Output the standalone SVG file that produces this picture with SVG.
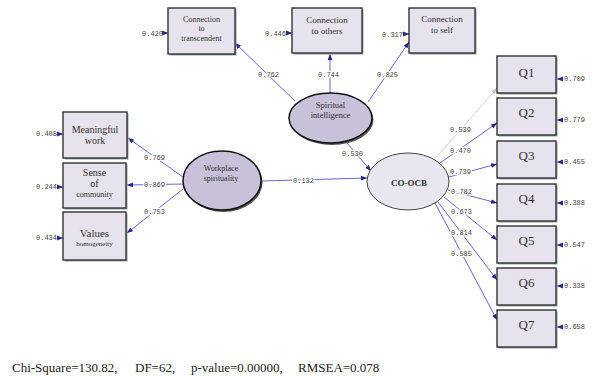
<svg xmlns="http://www.w3.org/2000/svg" width="592" height="376" viewBox="0 0 592 376">
  <style>
    .box { fill: #e6e3ee; stroke: #333; stroke-width: 1.4; }
    .shadow { fill: #8fa3a8; }
    .lat { fill: #c9c0da; stroke: #111; stroke-width: 1.5; }
    .latlight { fill: #e8e6f0; stroke: #444; stroke-width: 1; }
    .lshadow { fill: #555; }
    .t { font-family: "Liberation Serif", "Times New Roman", serif; fill: #333; text-anchor: middle; }
    .num { font-family: "Liberation Mono", "Courier New", monospace; font-size: 7px; fill: #444; }
    .lbl { stroke: #fff; stroke-width: 2.5; paint-order: stroke; }
    .path { stroke: #5656c4; stroke-width: 0.9; fill: none; marker-end: url(#head); }
    .grey { stroke: #cfcfcf; stroke-width: 0.9; fill: none; marker-end: url(#headg); }
    .err { stroke: #3a3a9a; stroke-width: 1; fill: none; marker-end: url(#head); }
  </style>
  <defs>
    <marker id="head" markerUnits="userSpaceOnUse" markerWidth="6" markerHeight="6" viewBox="0 0 6 6" refX="6" refY="3" orient="auto">
      <path d="M0,0.6 L6,3 L0,5.4 Z" fill="#26268a"/>
    </marker>
    <marker id="headg" markerUnits="userSpaceOnUse" markerWidth="6" markerHeight="6" viewBox="0 0 6 6" refX="6" refY="3" orient="auto">
      <path d="M0,0.6 L6,3 L0,5.4 Z" fill="#c4c4c4"/>
    </marker>
  </defs>
  <rect width="592" height="376" fill="#fff"/>

  <!-- paths between constructs and indicators -->
  <g id="connectors">
    <path class="path" d="M183,177 L128,138"/>
    <path class="path" d="M183,184 L127,185"/>
    <path class="path" d="M183,189 L127,233"/>
    <path class="path" d="M261,181 L367,178"/>
    <path class="path" d="M347,143 L371,171"/>
    <path class="path" d="M295,101 L235,43"/>
    <path class="path" d="M330,93 L330,54"/>
    <path class="path" d="M368,102 L409,42"/>
    <path class="grey" d="M435,159 L497,88"/>
    <path class="path" d="M440,163 L497,123"/>
    <path class="path" d="M449,177 L497,164"/>
    <path class="path" d="M448,190 L497,203"/>
    <path class="path" d="M444,197 L497,240"/>
    <path class="path" d="M438,202 L497,280"/>
    <path class="path" d="M435,203 L497,320"/>
    <!-- error terms -->
    <path class="err" d="M163,33 L168,33"/>
    <path class="err" d="M287,33 L292,33"/>
    <path class="err" d="M404,34 L409,34"/>
    <path class="err" d="M58,134 L63,134"/>
    <path class="err" d="M58,187 L63,187"/>
    <path class="err" d="M58,238 L63,238"/>
    <path class="err" d="M563,79 L557,79"/>
    <path class="err" d="M563,120 L557,120"/>
    <path class="err" d="M563,162 L557,162"/>
    <path class="err" d="M563,203 L557,203"/>
    <path class="err" d="M563,245 L557,245"/>
    <path class="err" d="M563,286 L557,286"/>
    <path class="err" d="M563,327 L557,327"/>
    <!-- coefficients -->
    <text class="num lbl" x="258" y="77">0.762</text>
    <text class="num lbl" x="318" y="77">0.744</text>
    <text class="num lbl" x="377" y="77">0.825</text>
    <text class="num lbl" x="144" y="160">0.769</text>
    <text class="num lbl" x="144" y="187">0.869</text>
    <text class="num lbl" x="144" y="214">0.753</text>
    <text class="num lbl" x="293" y="183">0.132</text>
    <text class="num lbl" x="342" y="156">0.530</text>
    <text class="num lbl" x="450" y="132">0.539</text>
    <text class="num lbl" x="450" y="153">0.470</text>
    <text class="num lbl" x="450" y="174">0.739</text>
    <text class="num lbl" x="451" y="194">0.782</text>
    <text class="num lbl" x="451" y="214">0.673</text>
    <text class="num lbl" x="451" y="235">0.814</text>
    <text class="num lbl" x="451" y="256">0.585</text>
    <!-- error variances -->
    <text class="num" x="142" y="36">0.420</text>
    <text class="num" x="265" y="36">0.446</text>
    <text class="num" x="382" y="37">0.317</text>
    <text class="num" x="36" y="136">0.408</text>
    <text class="num" x="36" y="189">0.244</text>
    <text class="num" x="36" y="240">0.434</text>
    <text class="num" x="564" y="81">0.709</text>
    <text class="num" x="564" y="122">0.779</text>
    <text class="num" x="564" y="164">0.455</text>
    <text class="num" x="564" y="205">0.388</text>
    <text class="num" x="564" y="247">0.547</text>
    <text class="num" x="564" y="288">0.338</text>
    <text class="num" x="564" y="329">0.658</text>
  </g>

  <!-- spiritual intelligence indicators -->
  <g id="conn-transcendent">
    <rect class="shadow" x="169.5" y="9.5" width="67" height="46"/>
    <rect class="box" x="168" y="8" width="67" height="46"/>
    <text class="t" font-size="8" x="201.5" y="22">Connection</text>
    <text class="t" font-size="8" x="201.5" y="31">to</text>
    <text class="t" font-size="8" x="201.5" y="41">transcendent</text>
  </g>
  <g id="conn-others">
    <rect class="shadow" x="293.5" y="9.5" width="70" height="45"/>
    <rect class="box" x="292" y="8" width="70" height="45"/>
    <text class="t" font-size="9" x="327" y="23">Connection</text>
    <text class="t" font-size="9" x="327" y="34">to others</text>
  </g>
  <g id="conn-self">
    <rect class="shadow" x="410.5" y="9.5" width="66" height="45"/>
    <rect class="box" x="409" y="8" width="66" height="45"/>
    <text class="t" font-size="9" x="442" y="22">Connection</text>
    <text class="t" font-size="9" x="442" y="33">to self</text>
  </g>

  <!-- workplace spirituality indicators -->
  <g id="meaningful-work">
    <rect class="shadow" x="64.5" y="113.5" width="64" height="46"/>
    <rect class="box" x="63" y="112" width="64" height="46"/>
    <text class="t" font-size="10" x="95" y="133">Meaningful</text>
    <text class="t" font-size="10" x="95" y="144">work</text>
  </g>
  <g id="sense-of-community">
    <rect class="shadow" x="64.5" y="164.5" width="63" height="45"/>
    <rect class="box" x="63" y="163" width="63" height="45"/>
    <text class="t" font-size="10" x="94.5" y="176">Sense</text>
    <text class="t" font-size="10" x="94.5" y="187">of</text>
    <text class="t" font-size="8" x="94.5" y="197">community</text>
  </g>
  <g id="values-homogeneity">
    <rect class="shadow" x="64.5" y="213.5" width="63" height="48"/>
    <rect class="box" x="63" y="212" width="63" height="48"/>
    <text class="t" font-size="11" x="94.5" y="237">Values</text>
    <text class="t" font-size="7" x="94.5" y="246">homogeneity</text>
  </g>

  <!-- latent constructs -->
  <g id="spiritual-intelligence">
    <ellipse class="lshadow" cx="332" cy="120" rx="41.5" ry="25"/>
    <ellipse class="lat" cx="330.5" cy="118" rx="41.5" ry="25"/>
    <text class="t" font-size="8.5" x="330.5" y="108">Spiritual</text>
    <text class="t" font-size="8.5" x="330.5" y="118">intelligence</text>
  </g>
  <g id="workplace-spirituality">
    <ellipse class="lshadow" cx="223.5" cy="182.5" rx="39" ry="29.5"/>
    <ellipse class="lat" cx="222" cy="180.5" rx="39" ry="29.5"/>
    <text class="t" font-size="8" x="221" y="170.5">Workplace</text>
    <text class="t" font-size="8" x="221" y="180.5">spirituality</text>
  </g>
  <g id="co-ocb">
    <ellipse class="latlight" cx="408" cy="181.5" rx="41" ry="28.5"/>
    <text class="t" font-size="9" font-weight="bold" x="409" y="186" fill="#222">CO-OCB</text>
  </g>

  <!-- CO-OCB items -->
  <g id="q1">
    <rect class="shadow" x="498.5" y="57.5" width="59" height="37"/>
    <rect class="box" x="497" y="56" width="59" height="37"/>
    <text class="t" font-size="13" x="526.5" y="77" fill="#222">Q1</text>
  </g>
  <g id="q2">
    <rect class="shadow" x="498.5" y="99.5" width="59" height="37"/>
    <rect class="box" x="497" y="98" width="59" height="37"/>
    <text class="t" font-size="13" x="526.5" y="117" fill="#222">Q2</text>
  </g>
  <g id="q3">
    <rect class="shadow" x="498.5" y="142.5" width="59" height="37"/>
    <rect class="box" x="497" y="141" width="59" height="37"/>
    <text class="t" font-size="13" x="526.5" y="160" fill="#222">Q3</text>
  </g>
  <g id="q4">
    <rect class="shadow" x="498.5" y="185.5" width="59" height="37"/>
    <rect class="box" x="497" y="184" width="59" height="37"/>
    <text class="t" font-size="13" x="526.5" y="203" fill="#222">Q4</text>
  </g>
  <g id="q5">
    <rect class="shadow" x="498.5" y="227.5" width="59" height="37"/>
    <rect class="box" x="497" y="226" width="59" height="37"/>
    <text class="t" font-size="13" x="526.5" y="245" fill="#222">Q5</text>
  </g>
  <g id="q6">
    <rect class="shadow" x="498.5" y="269.5" width="59" height="37"/>
    <rect class="box" x="497" y="268" width="59" height="37"/>
    <text class="t" font-size="13" x="526.5" y="287" fill="#222">Q6</text>
  </g>
  <g id="q7">
    <rect class="shadow" x="498.5" y="311.5" width="59" height="37"/>
    <rect class="box" x="497" y="310" width="59" height="37"/>
    <text class="t" font-size="13" x="526.5" y="329" fill="#222">Q7</text>
  </g>

  <!-- fit statistics -->
  <text font-family="Liberation Serif, 'Times New Roman', serif" font-size="13" fill="#222" y="372">
    <tspan x="12">Chi-Square=130.82,</tspan><tspan x="135">DF=62,</tspan><tspan x="191">p-value=0.00000,</tspan><tspan x="298">RMSEA=0.078</tspan>
  </text>
</svg>
